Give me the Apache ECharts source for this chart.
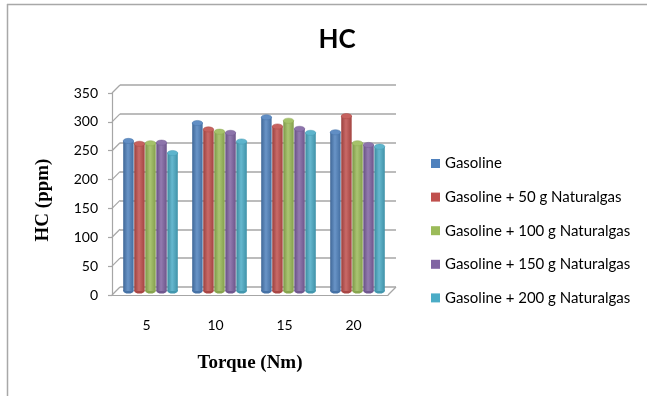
<!DOCTYPE html>
<html>
<head>
<meta charset="utf-8">
<script src="https://cdn.jsdelivr.net/npm/echarts@6/dist/echarts.min.js"></script>
<style>html,body{margin:0;padding:0;background:#fff}#c{width:647px;height:396px}</style>
</head>
<body>
<div id="c"></div>
<script>
// ---- data ----
const categories = ['5', '10', '15', '20'];
const seriesNames = ['Gasoline', 'Gasoline + 50 g Naturalgas', 'Gasoline + 100 g Naturalgas', 'Gasoline + 150 g Naturalgas', 'Gasoline + 200 g Naturalgas'];
const gasoline     = [260, 291, 301, 275];
const ng50         = [255, 280, 285, 303];
const ng100        = [256, 276, 295, 256];
const ng150        = [257, 274, 281, 253];
const ng200        = [239, 259, 274, 250];
const yTicks = [0, 50, 100, 150, 200, 250, 300, 350];
const colors = ['#4F81BD', '#C0504D', '#9BBB59', '#8064A2', '#4BACC6'];
const allSeries = [gasoline, ng50, ng100, ng150, ng200];

function shade(hex, f) {
  const n = parseInt(hex.slice(1), 16);
  let r = (n >> 16) & 255, g = (n >> 8) & 255, b = n & 255;
  const m = c => Math.max(0, Math.min(255, Math.round(f >= 0 ? c + (255 - c) * f : c * (1 + f))));
  return 'rgb(' + m(r) + ',' + m(g) + ',' + m(b) + ')';
}

const DEPTH = 8;
const FONT = 'Lato, "Open Sans", sans-serif';
const SERIF = '"Liberation Serif", "Times New Roman", serif';
const gridH = 202;

function renderCyl(params, api) {
  const cat = api.value(0), v = api.value(1);
  const top = api.coord([cat, v]);
  const base = api.coord([cat, 0]);
  const band = api.size([1, 0])[0];
  const w = band * 0.8 / 5;
  const s = params.seriesIndex;
  const cx = top[0] + (s - 2) * w;
  const col = colors[s];
  const x0 = cx - w / 2 + 0.3, ww = w - 0.6;
  const ry = 2.6;
  const grad = new echarts.graphic.LinearGradient(0, 0, 1, 0, [
    { offset: 0, color: shade(col, -0.2) },
    { offset: 0.45, color: shade(col, 0.15) },
    { offset: 1, color: shade(col, -0.15) }
  ]);
  return {
    type: 'group',
    children: [
      { type: 'ellipse', shape: { cx: cx, cy: base[1], rx: ww / 2, ry: ry }, style: { fill: shade(col, -0.12) } },
      { type: 'rect', shape: { x: x0, y: top[1], width: ww, height: base[1] - top[1] }, style: { fill: grad } },
      { type: 'ellipse', shape: { cx: cx, cy: top[1], rx: ww / 2, ry: ry }, style: { fill: shade(col, 0.1), stroke: shade(col, -0.1), lineWidth: 0.5 } }
    ]
  };
}

function renderConnectors(params, api) {
  const v = api.value(1);
  const band = api.size([1, 0])[0];
  const p = api.coord([0, v]);
  const lx = p[0] - band / 2;
  const children = [{
    type: 'line', shape: { x1: lx, y1: p[1], x2: lx + DEPTH, y2: p[1] - DEPTH },
    style: { stroke: '#a6a6a6', lineWidth: 1.2 }
  }];
  if (v === 0) {
    const r = api.coord([categories.length - 1, 0]);
    const rx = r[0] + band / 2;
    children.push({
      type: 'line', shape: { x1: rx, y1: r[1], x2: rx + DEPTH, y2: r[1] - DEPTH },
      style: { stroke: '#a6a6a6', lineWidth: 1.2 }
    });
  }
  return { type: 'group', children: children };
}

const barSeries = allSeries.map((arr, i) => ({
  name: seriesNames[i],
  type: 'custom',
  xAxisIndex: 1, yAxisIndex: 1,
  itemStyle: { color: colors[i] },
  renderItem: renderCyl,
  clip: false,
  z: 5,
  encode: { x: 0, y: 1 },
  data: arr.map((v, j) => [j, v])
}));

const leftFront = 112, widthAll = 276;

const option = {
  animation: false,
  backgroundColor: '#fff',
  title: {
    text: 'HC', left: 332, top: 22, textAlign: 'center',
    textStyle: { fontFamily: FONT, fontWeight: 'bold', fontSize: 26, color: '#000' }
  },
  legend: {
    orient: 'vertical', left: 431, top: 155, padding: 0,
    icon: 'rect', itemWidth: 9, itemHeight: 9, itemGap: 16.6,
    textStyle: { fontFamily: FONT, fontSize: 15, color: '#000', lineHeight: 17 },
    data: seriesNames
  },
  grid: [
    { left: leftFront, top: 295 - gridH, width: widthAll, height: gridH },          // front
    { left: leftFront + DEPTH / 2, top: 291 - gridH, width: widthAll, height: gridH }, // mid (bars)
    { left: leftFront + DEPTH, top: 287 - gridH, width: widthAll, height: gridH }     // back wall
  ],
  xAxis: [
    {
      gridIndex: 0, type: 'category', data: categories,
      axisLine: { show: true, lineStyle: { color: '#a6a6a6', width: 1.2 } },
      axisTick: { show: false },
      axisLabel: { margin: 23, fontFamily: FONT, fontSize: 14, color: '#000' },
      name: 'Torque (Nm)', nameLocation: 'middle', nameGap: 59,
      nameTextStyle: { fontFamily: SERIF, fontWeight: 'bold', fontSize: 19, color: '#000' }
    },
    { gridIndex: 1, type: 'category', data: categories, show: false },
    { gridIndex: 2, type: 'category', data: categories, show: false }
  ],
  yAxis: [
    {
      gridIndex: 0, type: 'value', min: 0, max: 350, interval: 50,
      axisLine: { show: true, lineStyle: { color: '#a6a6a6', width: 1.2 } },
      axisTick: { show: true, length: 4, lineStyle: { color: '#a6a6a6', width: 1.2 } },
      splitLine: { show: false },
      axisLabel: { margin: 14, fontFamily: FONT, fontSize: 14, color: '#000' },
      name: 'HC (ppm)', nameLocation: 'middle', nameGap: 59, nameRotate: 90,
      nameTextStyle: { fontFamily: SERIF, fontWeight: 'bold', fontSize: 19, color: '#000', padding: [0, 12, 0, 0] }
    },
    { gridIndex: 1, type: 'value', min: 0, max: 350, interval: 50, show: false, splitLine: { show: false } },
    {
      gridIndex: 2, type: 'value', min: 0, max: 350, interval: 50,
      axisLine: { show: false }, axisTick: { show: false }, axisLabel: { show: false },
      splitLine: { show: true, lineStyle: { color: '#a6a6a6', width: 1.6 } }
    }
  ],
  series: barSeries.concat([{
    type: 'custom', xAxisIndex: 0, yAxisIndex: 0, silent: true, z: 1,
    renderItem: renderConnectors, clip: false,
    encode: { x: 0, y: 1 },
    data: yTicks.map(v => [0, v])
  }]),
  graphic: [
    { type: 'line', shape: { x1: 7, y1: 4.5, x2: 647, y2: 4.5 }, style: { stroke: '#a8a8a8', lineWidth: 1.5 } },
    { type: 'line', shape: { x1: 7.5, y1: 4, x2: 7.5, y2: 396 }, style: { stroke: '#a8a8a8', lineWidth: 1.5 } }
  ]
};

const chart = echarts.init(document.getElementById('c'), null, { renderer: 'canvas' });
chart.setOption(option);
</script>
</body>
</html>
